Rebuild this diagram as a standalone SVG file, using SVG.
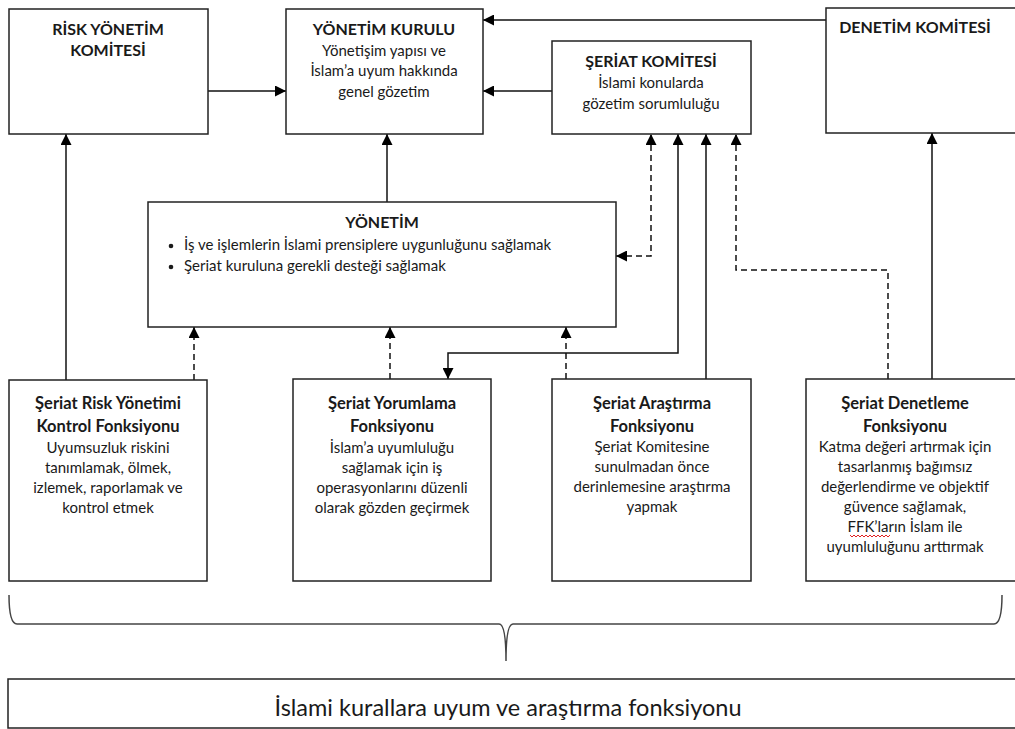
<svg xmlns="http://www.w3.org/2000/svg" width="1015" height="729" viewBox="0 0 1015 729">
<style>
.box{fill:#fff;stroke:#222;stroke-width:1.5}
.t{font-family:Lato,"Liberation Sans",sans-serif;fill:#1a1a1a;text-anchor:middle}
.b{font-weight:bold;font-size:16px}
.bb{font-weight:bold;font-size:16.5px}
.n{font-size:15px}
.l{font-family:Lato,"Liberation Sans",sans-serif;fill:#1a1a1a;font-size:15px}
.c{fill:none;stroke:#111;stroke-width:1.5}
.d{stroke-dasharray:6,4}
</style>
<defs>
<marker id="ah" viewBox="0 0 10 10" refX="10" refY="5" markerWidth="11" markerHeight="11" markerUnits="userSpaceOnUse" orient="auto-start-reverse">
<path d="M0,0 L10,5 L0,10 z" fill="#000"/>
</marker>
</defs>
<rect width="1015" height="729" fill="#fff"/>

<g id="connectors">
<line class="c" x1="208" y1="91" x2="286" y2="91" marker-end="url(#ah)"/>
<line class="c" x1="552" y1="91" x2="483" y2="91" marker-end="url(#ah)"/>
<line class="c" x1="826" y1="20" x2="483" y2="20" marker-end="url(#ah)"/>
<line class="c" x1="387" y1="202" x2="387" y2="134" marker-end="url(#ah)"/>
<line class="c" x1="66" y1="380" x2="66" y2="134" marker-end="url(#ah)"/>
<line class="c d" x1="194" y1="380" x2="194" y2="327" marker-end="url(#ah)"/>
<line class="c d" x1="390" y1="379" x2="390" y2="327" marker-end="url(#ah)"/>
<line class="c d" x1="566" y1="379" x2="566" y2="327" marker-end="url(#ah)"/>
<path class="c d" d="M616,256 L651,256 L651,134" marker-start="url(#ah)" marker-end="url(#ah)"/>
<path class="c" d="M448,379 L448,353 L678,353 L678,134" marker-start="url(#ah)" marker-end="url(#ah)"/>
<line class="c" x1="706" y1="379" x2="706" y2="134" marker-end="url(#ah)"/>
<path class="c d" d="M888,379 L888,270 L736,270 L736,134" marker-end="url(#ah)"/>
<line class="c" x1="932" y1="379" x2="932" y2="133" marker-end="url(#ah)"/>
</g>

<g id="risk-yonetim-komitesi">
<rect class="box" x="9" y="9" width="199" height="125"/>
<text class="t b" x="108" y="35">RİSK YÖNETİM</text>
<text class="t b" x="108" y="56">KOMİTESİ</text>
</g>

<g id="yonetim-kurulu">
<rect class="box" x="286" y="9" width="197" height="125"/>
<text class="t b" x="384" y="35">YÖNETİM KURULU</text>
<text class="t n" x="384" y="56">Yönetişim yapısı ve</text>
<text class="t n" x="384" y="76">İslam’a uyum hakkında</text>
<text class="t n" x="384" y="97">genel gözetim</text>
</g>

<g id="seriat-komitesi">
<rect class="box" x="552" y="41" width="199" height="93"/>
<text class="t b" x="651" y="67">ŞERİAT KOMİTESİ</text>
<text class="t n" x="651" y="88">İslami konularda</text>
<text class="t n" x="651" y="109">gözetim sorumluluğu</text>
</g>

<g id="denetim-komitesi">
<rect class="box" x="826" y="8" width="200" height="125"/>
<text class="t b" x="915" y="33">DENETİM KOMİTESİ</text>
</g>

<g id="yonetim">
<rect class="box" x="148" y="202" width="468" height="125"/>
<text class="t b" x="382" y="228">YÖNETİM</text>
<circle cx="171" cy="246" r="2.3" fill="#1a1a1a"/>
<text class="l" x="184" y="250">İş ve işlemlerin İslami prensiplere uygunluğunu sağlamak</text>
<circle cx="171" cy="267" r="2.3" fill="#1a1a1a"/>
<text class="l" x="184" y="271">Şeriat kuruluna gerekli desteği sağlamak</text>
</g>

<g id="seriat-risk-yonetimi">
<rect class="box" x="9" y="380" width="198" height="201"/>
<text class="t bb" x="108" y="409">Şeriat Risk Yönetimi</text>
<text class="t bb" x="108" y="432">Kontrol Fonksiyonu</text>
<text class="t n" x="108" y="453">Uyumsuzluk riskini</text>
<text class="t n" x="108" y="473">tanımlamak, ölmek,</text>
<text class="t n" x="108" y="493">izlemek, raporlamak ve</text>
<text class="t n" x="108" y="513">kontrol etmek</text>
</g>

<g id="seriat-yorumlama">
<rect class="box" x="293" y="379" width="198" height="202"/>
<text class="t bb" x="392" y="409">Şeriat Yorumlama</text>
<text class="t bb" x="392" y="432">Fonksiyonu</text>
<text class="t n" x="392" y="453">İslam’a uyumluluğu</text>
<text class="t n" x="392" y="473">sağlamak için iş</text>
<text class="t n" x="392" y="493">operasyonlarını düzenli</text>
<text class="t n" x="392" y="513">olarak gözden geçirmek</text>
</g>

<g id="seriat-arastirma">
<rect class="box" x="552" y="379" width="199" height="202"/>
<text class="t bb" x="652" y="409">Şeriat Araştırma</text>
<text class="t bb" x="652" y="432">Fonksiyonu</text>
<text class="t n" x="652" y="452">Şeriat Komitesine</text>
<text class="t n" x="652" y="472">sunulmadan önce</text>
<text class="t n" x="652" y="492">derinlemesine araştırma</text>
<text class="t n" x="652" y="512">yapmak</text>
</g>

<g id="seriat-denetleme">
<rect class="box" x="806" y="379" width="220" height="202"/>
<text class="t bb" x="905" y="409">Şeriat Denetleme</text>
<text class="t bb" x="905" y="432">Fonksiyonu</text>
<text class="t n" x="905" y="452">Katma değeri artırmak için</text>
<text class="t n" x="905" y="472">tasarlanmış bağımsız</text>
<text class="t n" x="905" y="492">değerlendirme ve objektif</text>
<text class="t n" x="905" y="512">güvence sağlamak,</text>
<text class="t n" x="905" y="532">FFK’ların İslam ile</text>
<text class="t n" x="905" y="552">uyumluluğunu arttırmak</text>
<path d="M850,535 l2,2 l2,-2 l2,2 l2,-2 l2,2 l2,-2 l2,2 l2,-2 l2,2 l2,-2 l2,2 l2,-2 l2,2 l2,-2 l2,2 l2,-2 l2,2 l2,-2 l2,2 l2,-2" fill="none" stroke="#e02020" stroke-width="1"/>
</g>

<g id="brace">
<path d="M9,595 Q9,624 17,624 L499,624 Q506,624 506,661 Q506,624 513,624 L994,624 Q1002,624 1002,595" fill="none" stroke="#444" stroke-width="1.5"/>
</g>

<g id="uyum-fonksiyonu">
<rect class="box" x="8" y="679" width="1020" height="49"/>
<text class="t" x="508" y="716" font-size="23.5">İslami kurallara uyum ve araştırma fonksiyonu</text>
</g>
</svg>
